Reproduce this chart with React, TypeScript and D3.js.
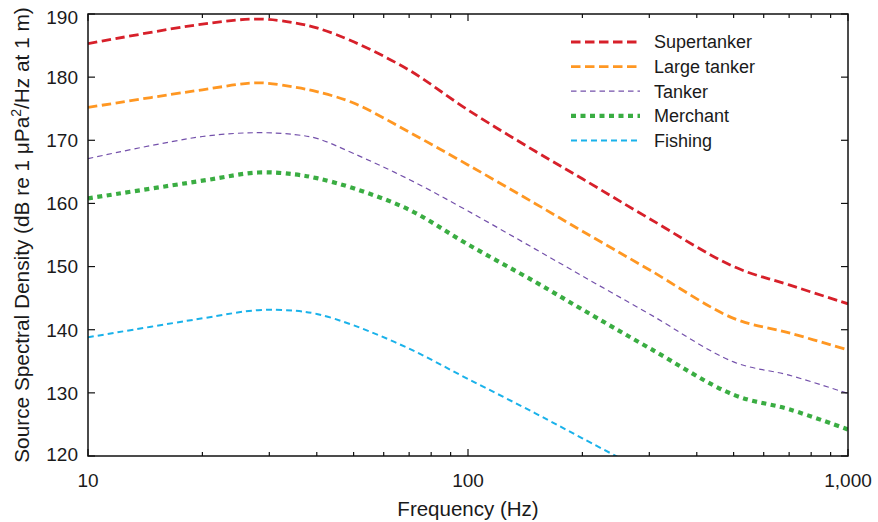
import React, { useEffect, useRef } from "react";
import * as d3 from "d3";

// frequencies (Hz) where the curves were read
const freqs = [10, 20, 28, 35, 40, 50, 70, 100, 150, 200, 300, 500, 700, 1000];
const fishingFreqs = [10, 20, 28, 35, 40, 50, 70, 100, 150, 200, 300];

const supertanker = [185.3, 188.4, 189.2, 188.6, 187.8, 185.6, 181.1, 174.8, 168.3, 163.9, 157.6, 150.0, 147.1, 144.1];
const largeTanker = [175.2, 178.0, 179.1, 178.4, 177.7, 175.9, 171.3, 166.1, 160.0, 155.6, 149.5, 141.8, 139.5, 136.8];
const tanker = [167.1, 170.6, 171.2, 170.9, 170.3, 167.9, 163.8, 158.8, 152.8, 148.5, 142.5, 134.9, 132.8, 129.9];
const merchant = [160.8, 163.6, 164.9, 164.6, 164.0, 162.4, 159.0, 153.5, 147.6, 143.2, 137.1, 129.7, 127.4, 124.2];
const fishing = [138.8, 141.8, 143.1, 143.0, 142.5, 140.7, 137.0, 132.2, 126.8, 122.8, 117.2];

const yTicks = [120, 130, 140, 150, 160, 170, 180, 190];
const xMajor = [10, 100, 1000];
const xLabels = ["10", "100", "1,000"];

const series = [
  { name: "Supertanker", x: freqs, y: supertanker, color: "#d7202a", width: 2.8, dash: "9.5,4.5" },
  { name: "Large tanker", x: freqs, y: largeTanker, color: "#ff9722", width: 2.8, dash: "9.5,4.5" },
  { name: "Tanker", x: freqs, y: tanker, color: "#7451ab", width: 1.2, dash: "5.5,4" },
  { name: "Merchant", x: freqs, y: merchant, color: "#3aad42", width: 4.2, dash: "5,4.5" },
  { name: "Fishing", x: fishingFreqs, y: fishing, color: "#1ab2ea", width: 2, dash: "6,4" },
];

const W = 878;
const H = 522;
const FONT = "'Liberation Sans', Arial, Helvetica, sans-serif";

export default function App() {
  const ref = useRef<SVGSVGElement>(null);

  useEffect(() => {
    const svg = d3.select(ref.current);
    svg.selectAll("*").remove();

    const margin = { top: 14, right: 30, bottom: 66, left: 88 };
    const x0 = margin.left, x1 = W - margin.right;
    const y0 = margin.top, y1 = H - margin.bottom;

    const x = d3.scaleLog().domain([10, 1000]).range([x0, x1]);
    const y = d3.scaleLinear().domain([120, 190]).range([y1, y0]);

    svg.append("defs").append("clipPath").attr("id", "plot-clip")
      .append("rect").attr("x", x0).attr("y", y0).attr("width", x1 - x0).attr("height", y1 - y0);

    // curves
    const line = d3.line<[number, number]>()
      .x(d => x(d[0]))
      .y(d => y(d[1]))
      .curve(d3.curveCatmullRom.alpha(0.5));

    const g = svg.append("g").attr("clip-path", "url(#plot-clip)");
    series.forEach(s => {
      const pts = s.x.map((f, i) => [f, s.y[i]] as [number, number]);
      g.append("path")
        .attr("d", line(pts))
        .attr("fill", "none")
        .attr("stroke", s.color)
        .attr("stroke-width", s.width)
        .attr("stroke-dasharray", s.dash);
    });

    // frame
    svg.append("rect")
      .attr("x", x0).attr("y", y0).attr("width", x1 - x0).attr("height", y1 - y0)
      .attr("fill", "none").attr("stroke", "#111").attr("stroke-width", 1.5);

    const axes = svg.append("g").attr("stroke", "#111").attr("stroke-width", 1.2);

    // y ticks, inward on both sides
    yTicks.forEach(t => {
      axes.append("line").attr("x1", x0).attr("x2", x0 + 7).attr("y1", y(t)).attr("y2", y(t));
      axes.append("line").attr("x1", x1).attr("x2", x1 - 7).attr("y1", y(t)).attr("y2", y(t));
    });

    // x ticks (log), inward on bottom and top
    x.ticks().forEach(t => {
      const len = xMajor.includes(t) ? 7 : 4;
      axes.append("line").attr("x1", x(t)).attr("x2", x(t)).attr("y1", y1).attr("y2", y1 - len);
      axes.append("line").attr("x1", x(t)).attr("x2", x(t)).attr("y1", y0).attr("y2", y0 + len);
    });

    const txt = svg.append("g").attr("font-family", FONT).attr("fill", "#1a1a1a");

    yTicks.forEach(t => {
      txt.append("text")
        .attr("x", x0 - 10)
        .attr("y", y(t) + (t === 190 ? 3 : t === 120 ? -2 : 0))
        .attr("dy", "0.36em")
        .attr("text-anchor", "end")
        .attr("font-size", 19)
        .text(t);
    });

    xMajor.forEach((t, i) => {
      txt.append("text")
        .attr("x", x(t))
        .attr("y", 487)
        .attr("text-anchor", "middle")
        .attr("font-size", 19)
        .text(xLabels[i]);
    });

    txt.append("text")
      .attr("x", (x0 + x1) / 2)
      .attr("y", 516)
      .attr("text-anchor", "middle")
      .attr("font-size", 20.5)
      .text("Frequency (Hz)");

    const yl = txt.append("text")
      .attr("transform", `translate(28.5,${(y0 + y1) / 2}) rotate(-90)`)
      .attr("text-anchor", "middle")
      .attr("font-size", 20.8);
    yl.append("tspan").text("Source Spectral Density (dB re 1 \u03bcPa");
    yl.append("tspan").attr("dy", -8).attr("font-size", 14).text("2");
    yl.append("tspan").attr("dy", 8).text("/Hz at 1 m)");

    // legend
    const lg = svg.append("g");
    series.forEach((s, i) => {
      const cy = 42 + i * 24.6;
      lg.append("line")
        .attr("x1", 571).attr("x2", 640).attr("y1", cy).attr("y2", cy)
        .attr("stroke", s.color)
        .attr("stroke-width", s.width)
        .attr("stroke-dasharray", s.dash);
      lg.append("text")
        .attr("x", 654).attr("y", cy).attr("dy", "0.36em")
        .attr("font-family", FONT).attr("font-size", 18).attr("fill", "#1a1a1a")
        .text(s.name);
    });
  }, []);

  return (
    <svg
      ref={ref}
      width={W}
      height={H}
      style={{ position: "absolute", left: 0, top: 0, background: "#fff" }}
    />
  );
}
